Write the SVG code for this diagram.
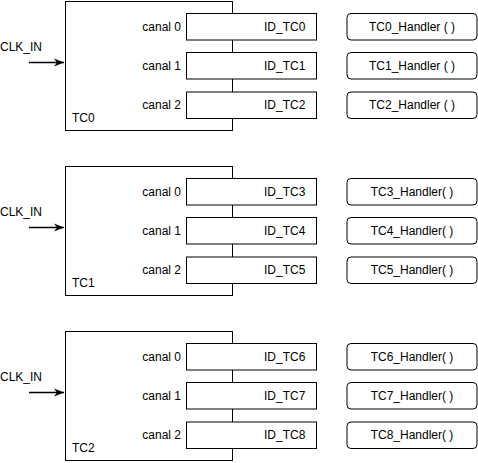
<svg xmlns="http://www.w3.org/2000/svg" width="478" height="463" viewBox="0 0 478 463">
<style>
text{font-family:"Liberation Sans",Arial,sans-serif;font-size:12px;fill:#000}
.blk{fill:#fff;stroke:#000;stroke-width:1}
.ch{fill:#fff;stroke:#000;stroke-width:1}
.hd{fill:#fff;stroke:#000;stroke-width:1}
.r{text-anchor:end}
.m{text-anchor:middle}
.ar{stroke:#000;stroke-width:1.3;fill:none}
</style>
<defs>
<marker id="ah" markerWidth="12" markerHeight="10" refX="10" refY="5" orient="auto" markerUnits="userSpaceOnUse">
<path d="M0,1 L10,5 L0,9 L3,5 Z" fill="#000"/>
</marker>
</defs>
<g id="connectors">
<line class="ar" x1="29" y1="62.5" x2="64" y2="62.5" marker-end="url(#ah)"/>
<line class="ar" x1="29" y1="227.5" x2="64" y2="227.5" marker-end="url(#ah)"/>
<line class="ar" x1="29" y1="392.5" x2="64" y2="392.5" marker-end="url(#ah)"/>
</g>
<g id="tc0">
<rect class="blk" x="65.5" y="1.5" width="167" height="129"/>
<text x="72" y="121.5">TC0</text>
<text x="0" y="50.5">CLK_IN</text>
</g>
<g id="tc0_ch0"><rect class="ch" x="186.5" y="13.5" width="130" height="26.5"/><text class="r" x="181" y="30.5">canal 0</text><text x="264" y="30.5">ID_TC0</text></g>
<g id="tc0_ch1"><rect class="ch" x="186.5" y="52.5" width="130" height="26.5"/><text class="r" x="181" y="69.5">canal 1</text><text x="264" y="69.5">ID_TC1</text></g>
<g id="tc0_ch2"><rect class="ch" x="186.5" y="92" width="130" height="26.5"/><text class="r" x="181" y="109">canal 2</text><text x="264" y="109">ID_TC2</text></g>
<g id="h0"><rect class="hd" x="347" y="13.5" width="130" height="26.5" rx="4"/><text class="m" x="412" y="30.5">TC0_Handler ( )</text></g>
<g id="h1"><rect class="hd" x="347" y="52.5" width="130" height="26.5" rx="4"/><text class="m" x="412" y="69.5">TC1_Handler ( )</text></g>
<g id="h2"><rect class="hd" x="347" y="92" width="130" height="26.5" rx="4"/><text class="m" x="412" y="109">TC2_Handler ( )</text></g>

<g id="tc1">
<rect class="blk" x="65.5" y="166.5" width="167" height="129"/>
<text x="72" y="286.5">TC1</text>
<text x="0" y="215.5">CLK_IN</text>
</g>
<g id="tc1_ch0"><rect class="ch" x="186.5" y="178.5" width="130" height="26.5"/><text class="r" x="181" y="195.5">canal 0</text><text x="264" y="195.5">ID_TC3</text></g>
<g id="tc1_ch1"><rect class="ch" x="186.5" y="217.5" width="130" height="26.5"/><text class="r" x="181" y="234.5">canal 1</text><text x="264" y="234.5">ID_TC4</text></g>
<g id="tc1_ch2"><rect class="ch" x="186.5" y="257" width="130" height="26.5"/><text class="r" x="181" y="274">canal 2</text><text x="264" y="274">ID_TC5</text></g>
<g id="h3"><rect class="hd" x="347" y="178.5" width="130" height="26.5" rx="4"/><text class="m" x="412" y="195.5">TC3_Handler( )</text></g>
<g id="h4"><rect class="hd" x="347" y="217.5" width="130" height="26.5" rx="4"/><text class="m" x="412" y="234.5">TC4_Handler( )</text></g>
<g id="h5"><rect class="hd" x="347" y="257" width="130" height="26.5" rx="4"/><text class="m" x="412" y="274">TC5_Handler( )</text></g>

<g id="tc2">
<rect class="blk" x="65.5" y="331.5" width="167" height="129"/>
<text x="72" y="451.5">TC2</text>
<text x="0" y="380.5">CLK_IN</text>
</g>
<g id="tc2_ch0"><rect class="ch" x="186.5" y="343.5" width="130" height="26.5"/><text class="r" x="181" y="360.5">canal 0</text><text x="264" y="360.5">ID_TC6</text></g>
<g id="tc2_ch1"><rect class="ch" x="186.5" y="382.5" width="130" height="26.5"/><text class="r" x="181" y="399.5">canal 1</text><text x="264" y="399.5">ID_TC7</text></g>
<g id="tc2_ch2"><rect class="ch" x="186.5" y="422" width="130" height="26.5"/><text class="r" x="181" y="439">canal 2</text><text x="264" y="439">ID_TC8</text></g>
<g id="h6"><rect class="hd" x="347" y="343.5" width="130" height="26.5" rx="4"/><text class="m" x="412" y="360.5">TC6_Handler( )</text></g>
<g id="h7"><rect class="hd" x="347" y="382.5" width="130" height="26.5" rx="4"/><text class="m" x="412" y="399.5">TC7_Handler( )</text></g>
<g id="h8"><rect class="hd" x="347" y="422" width="130" height="26.5" rx="4"/><text class="m" x="412" y="439">TC8_Handler( )</text></g>
</svg>
